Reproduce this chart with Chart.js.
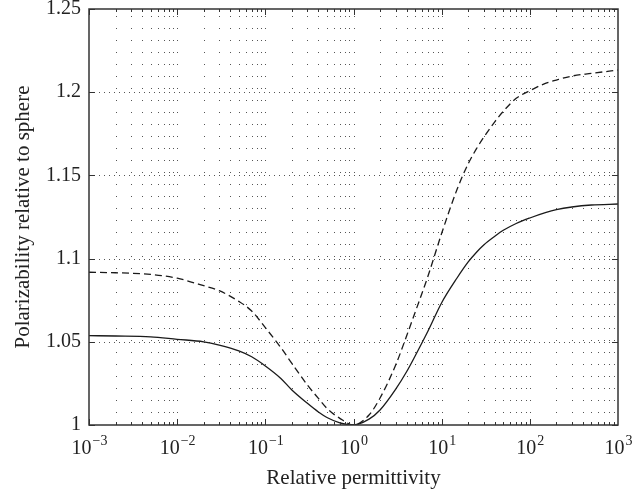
<!DOCTYPE html>
<html lang="en">
<head>
<meta charset="UTF-8">
<title>Polarizability relative to sphere</title>
<script src="https://cdn.jsdelivr.net/npm/chart.js"></script>
<style>
  body { margin: 0; background: #fff; }
  #wrap { width: 644px; height: 494px; }
</style>
</head>
<body>
<div id="wrap"><canvas id="chart" width="644" height="494"></canvas></div>
<script>
// relative permittivity (x) and the two curves
const permittivity = [0.001, 0.002, 0.005, 0.01, 0.02, 0.03, 0.05, 0.07, 0.1, 0.15, 0.2, 0.3, 0.4, 0.5, 0.7,
  1, 1.5, 2, 3, 4, 5, 7, 10, 15, 20, 25, 30, 40, 50, 70, 100, 150, 200, 300, 500, 1000];
const solidCurve = [1.0537, 1.0535, 1.053, 1.0515, 1.050, 1.048, 1.0445, 1.041, 1.0355, 1.028, 1.021, 1.013, 1.0078, 1.0045, 1.0013,
  1.0, 1.0035, 1.009, 1.0214, 1.032, 1.0415, 1.0565, 1.0735, 1.0885, 1.098, 1.104, 1.1082, 1.1134, 1.117, 1.1211, 1.1244, 1.1276, 1.1294, 1.131, 1.1322, 1.1328];
const dashedCurve = [1.0918, 1.0915, 1.0905, 1.0882, 1.0837, 1.0807, 1.0743, 1.0685, 1.0585, 1.0465, 1.037, 1.024, 1.016, 1.010, 1.004,
  1.0, 1.006, 1.0162, 1.0359, 1.0535, 1.0677, 1.0895, 1.1152, 1.1418, 1.157, 1.1663, 1.1729, 1.1822, 1.1885, 1.1963, 1.2009, 1.2053, 1.2073, 1.2097, 1.2113, 1.2133];

const yTicks = [1, 1.05, 1.1, 1.15, 1.2, 1.25];
const yTickLabels = ['1', '1.05', '1.1', '1.15', '1.2', '1.25'];
const xDecades = [-3, -2, -1, 0, 1, 2, 3];

const FONT = '"Liberation Serif", "DejaVu Serif", serif';
const INK = '#222';

// MATLAB-like frame, inward ticks, dotted grid and superscript labels
const matlabAxes = {
  id: 'matlabAxes',
  beforeDatasetsDraw(chart) {
    const ctx = chart.ctx, a = chart.chartArea;
    const xs = chart.scales.x, ys = chart.scales.y;
    ctx.save();
    ctx.strokeStyle = '#555';
    ctx.lineWidth = 1;
    // vertical dotted lines at every log tick
    ctx.setLineDash([1, 11]);
    for (let d = -3; d < 3; d++) {
      for (let m = 1; m <= 9; m++) {
        if (d === -3 && m === 1) continue;
        const px = Math.round(xs.getPixelForValue(m * Math.pow(10, d))) + 0.5;
        ctx.beginPath();
        ctx.moveTo(px, a.bottom);
        ctx.lineTo(px, a.top);
        ctx.stroke();
      }
    }
    // horizontal dotted lines at the major y ticks
    ctx.setLineDash([1, 4]);
    yTicks.slice(1, -1).forEach(v => {
      const py = Math.round(ys.getPixelForValue(v)) + 0.5;
      ctx.beginPath();
      ctx.moveTo(a.left, py);
      ctx.lineTo(a.right, py);
      ctx.stroke();
    });
    ctx.restore();
  },
  afterDatasetsDraw(chart) {
    const ctx = chart.ctx, a = chart.chartArea;
    const xs = chart.scales.x, ys = chart.scales.y;
    ctx.save();
    ctx.strokeStyle = '#333';
    ctx.lineWidth = 1;
    ctx.beginPath();
    for (let d = -3; d < 3; d++) {
      for (let m = 1; m <= 9; m++) {
        const px = Math.round(xs.getPixelForValue(m * Math.pow(10, d))) + 0.5;
        const len = m === 1 ? 6 : 3;
        ctx.moveTo(px, a.bottom); ctx.lineTo(px, a.bottom - len);
        ctx.moveTo(px, a.top); ctx.lineTo(px, a.top + len);
      }
    }
    yTicks.forEach(v => {
      const py = Math.round(ys.getPixelForValue(v)) + 0.5;
      ctx.moveTo(a.left, py); ctx.lineTo(a.left + 6, py);
      ctx.moveTo(a.right, py); ctx.lineTo(a.right - 6, py);
    });
    ctx.stroke();
    ctx.lineWidth = 1.5;
    ctx.strokeRect(a.left, a.top, a.right - a.left, a.bottom - a.top);

    // x tick labels 10^n
    ctx.fillStyle = INK;
    ctx.textBaseline = 'alphabetic';
    ctx.textAlign = 'left';
    xDecades.forEach(n => {
      const px = xs.getPixelForValue(Math.pow(10, n));
      const exp = n < 0 ? '\u2212' + (-n) : String(n);
      ctx.font = '20px ' + FONT;
      const wb = ctx.measureText('10').width;
      ctx.font = '14px ' + FONT;
      const we = ctx.measureText(exp).width;
      const x0 = px - (wb + we) / 2;
      ctx.font = '20px ' + FONT;
      ctx.fillText('10', x0, a.bottom + 29);
      ctx.font = '14px ' + FONT;
      ctx.fillText(exp, x0 + wb + 1, a.bottom + 20);
    });

    // axis titles
    ctx.font = '21px ' + FONT;
    ctx.textAlign = 'center';
    ctx.textBaseline = 'middle';
    ctx.fillText('Relative permittivity', (a.left + a.right) / 2, 478);
    ctx.translate(23, (a.top + a.bottom) / 2);
    ctx.rotate(-Math.PI / 2);
    ctx.fillText('Polarizability relative to sphere', 0, 0);
    ctx.restore();
  }
};

const ctx = document.getElementById('chart').getContext('2d');
new Chart(ctx, {
  type: 'line',
  data: {
    datasets: [
      {
        label: 'solid',
        data: permittivity.map((x, i) => ({ x: x, y: solidCurve[i] })),
        borderColor: '#1a1a1a',
        borderWidth: 1.3,
        pointRadius: 0,
        cubicInterpolationMode: 'monotone',
        fill: false
      },
      {
        label: 'dashed',
        data: permittivity.map((x, i) => ({ x: x, y: dashedCurve[i] })),
        borderColor: '#1a1a1a',
        borderWidth: 1.3,
        borderDash: [7, 4],
        pointRadius: 0,
        cubicInterpolationMode: 'monotone',
        fill: false
      }
    ]
  },
  options: {
    responsive: false,
    devicePixelRatio: 1,
    animation: false,
    layout: { padding: { top: 9, right: 26, bottom: 0, left: 0 } },
    plugins: { legend: { display: false }, tooltip: { enabled: false } },
    scales: {
      x: {
        type: 'logarithmic',
        min: 0.001,
        max: 1000,
        grid: { display: false, drawTicks: false },
        border: { display: false },
        ticks: { display: false },
        afterFit: s => { s.height = 69; s.paddingLeft = 0; s.paddingRight = 0; }
      },
      y: {
        type: 'linear',
        min: 1,
        max: 1.25,
        grid: { display: false, drawTicks: false },
        border: { display: false },
        ticks: {
          stepSize: 0.05,
          padding: 8,
          color: INK,
          font: { family: FONT, size: 20 },
          callback: v => {
            const i = yTicks.findIndex(t => Math.abs(t - v) < 1e-6);
            return i >= 0 ? yTickLabels[i] : '';
          }
        },
        afterFit: s => { s.width = 89; s.paddingTop = 0; s.paddingBottom = 0; }
      }
    }
  },
  plugins: [matlabAxes]
});
</script>
</body>
</html>
